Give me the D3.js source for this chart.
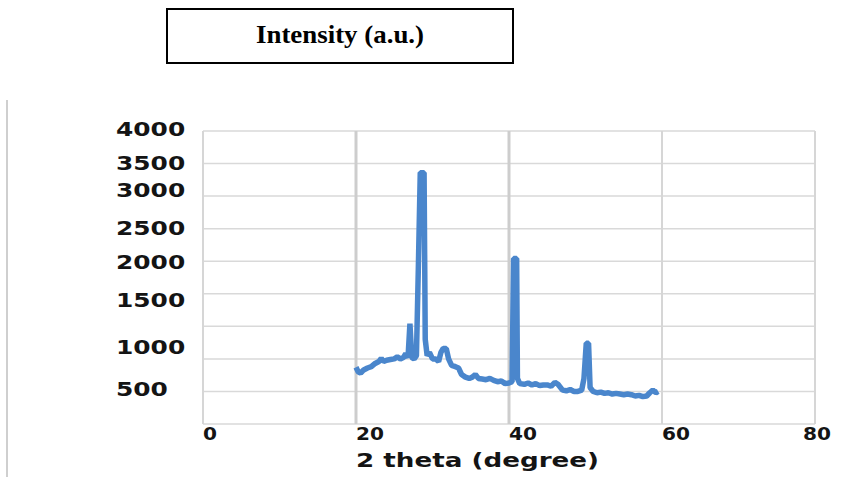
<!DOCTYPE html>
<html>
<head>
<meta charset="utf-8">
<script src="https://cdn.jsdelivr.net/npm/d3@7"></script>
<style>
  html, body { margin: 0; padding: 0; background: #fff; }
  svg { display: block; }
</style>
</head>
<body>
<div id="chart"></div>
<script>
// XRD pattern (intensity in gridline units)
var twoTheta = [20.0, 20.3, 20.6, 21.0, 21.5, 22.0, 22.5, 23.0, 23.3, 23.6, 24.0, 24.5, 25.0, 25.4, 25.8,
  26.2, 26.5, 26.8, 27.05, 27.3, 27.6, 27.9, 28.15, 28.4, 28.9, 29.05, 29.3, 29.6, 30.0, 30.4, 30.8,
  31.1, 31.4, 31.8, 32.1, 32.5, 33.0, 33.4, 33.8, 34.3, 34.8, 35.2, 35.6, 36.0, 36.5, 37.0, 37.5,
  38.0, 38.5, 39.0, 39.5, 40.0, 40.4, 40.6, 41.0, 41.1, 41.4, 42.0, 42.5, 43.0, 43.5, 44.0, 44.5,
  45.0, 45.5, 46.0, 46.4, 47.0, 47.5, 48.0, 48.5, 49.0, 49.5, 49.8, 50.1, 50.4, 50.6, 51.0, 51.5,
  52.0, 52.5, 53.0, 53.5, 54.0, 54.5, 55.0, 55.5, 56.0, 56.5, 57.0, 57.5, 58.0, 58.4, 58.8, 59.2, 59.5];
var intensity = [870, 800, 780, 830, 860, 880, 930, 960, 1010, 960, 980, 990, 1000, 1030, 1000,
  1020, 1080, 1020, 1540, 1020, 1000, 1050, 2400, 3860, 3860, 1300, 1050, 1100, 1000, 1000, 960,
  1100, 1160, 1160, 1000, 900, 880, 860, 760, 720, 700, 720, 760, 700, 690, 680, 700,
  670, 650, 660, 620, 630, 650, 2540, 2540, 700, 620, 610, 630, 600, 620, 590, 600,
  600, 580, 640, 610, 520, 510, 530, 500, 500, 520, 700, 1240, 1240, 560, 500, 480,
  490, 470, 480, 460, 470, 460, 450, 460, 450, 430, 440, 420, 430, 480, 520, 480, 500];

var xTicks = [0, 20, 40, 60, 80];
var yLabels = ["4000", "3500", "3000", "2500", "2000", "1500", "1000", "500"];
// where each (hand-placed) y label sits, in gridline units
var yLabelAt = [4531, 4009, 3594, 3011, 2488, 1905, 1183, 538];

var chartTitle = "Intensity (a.u.)";
var xTitle = "2 theta (degree)";

var width = 868, height = 477;
var plot = { left: 203, right: 815, top: 131, bottom: 424 };

var svg = d3.select('#chart').append('svg')
  .attr('width', width)
  .attr('height', height);

var x = d3.scaleLinear().domain([0, 80]).range([plot.left, plot.right]);
var y = d3.scaleLinear().domain([0, 4500]).range([plot.bottom, plot.top]);

// page border line on the left
svg.append('line')
  .attr('x1', 7).attr('x2', 7)
  .attr('y1', 100).attr('y2', height)
  .attr('stroke', '#cfcfcf')
  .attr('stroke-width', 2);

// title box
svg.append('rect')
  .attr('x', 167).attr('y', 9)
  .attr('width', 346).attr('height', 54)
  .attr('fill', 'none')
  .attr('stroke', '#000')
  .attr('stroke-width', 2);
svg.append('text')
  .attr('x', 340).attr('y', 43)
  .attr('text-anchor', 'middle')
  .attr('font-family', 'Liberation Serif, Times New Roman, serif')
  .attr('font-weight', 'bold')
  .attr('font-size', 26)
  .attr('textLength', 168)
  .attr('lengthAdjust', 'spacingAndGlyphs')
  .text(chartTitle);

// horizontal gridlines
svg.append('g')
  .selectAll('line')
  .data(y.ticks(10))
  .enter()
  .append('line')
  .attr('x1', plot.left).attr('x2', plot.right)
  .attr('y1', d => y(d)).attr('y2', d => y(d))
  .attr('stroke', '#d9d9d9')
  .attr('stroke-width', 1.5);

// vertical gridlines
svg.append('g')
  .selectAll('line')
  .data(xTicks)
  .enter()
  .append('line')
  .attr('x1', d => x(d)).attr('x2', d => x(d))
  .attr('y1', plot.top).attr('y2', plot.bottom)
  .attr('stroke', d => (d == 20 || d == 40) ? '#cdcdcd' : '#d6d6d6')
  .attr('stroke-width', d => (d == 20 || d == 40) ? 3 : 2);

// y labels
svg.append('g')
  .selectAll('text')
  .data(yLabels)
  .enter()
  .append('text')
  .attr('x', 116)
  .attr('y', (d, i) => y(yLabelAt[i]))
  .attr('dy', '0.36em')
  .attr('font-family', 'DejaVu Sans, Verdana, sans-serif')
  .attr('font-weight', 'bold')
  .attr('font-size', 20)
  .attr('fill', '#141414')
  .attr('textLength', d => d.length * 17.3)
  .attr('lengthAdjust', 'spacingAndGlyphs')
  .text(d => d);

// x labels
svg.append('g')
  .selectAll('text')
  .data(xTicks)
  .enter()
  .append('text')
  .attr('x', (d, i) => i == xTicks.length - 1 ? x(d) + 2 : x(d))
  .attr('y', 440)
  .attr('text-anchor', (d, i) => i == xTicks.length - 1 ? 'middle' : 'start')
  .attr('font-family', 'DejaVu Sans, Verdana, sans-serif')
  .attr('font-weight', 'bold')
  .attr('font-size', 18)
  .attr('fill', '#141414')
  .attr('textLength', d => String(d).length * 14)
  .attr('lengthAdjust', 'spacingAndGlyphs')
  .text(d => d);

// x title
svg.append('text')
  .attr('x', x(20))
  .attr('y', 467)
  .attr('font-family', 'DejaVu Sans, Verdana, sans-serif')
  .attr('font-weight', 'bold')
  .attr('font-size', 19)
  .attr('fill', '#141414')
  .attr('textLength', 243)
  .attr('lengthAdjust', 'spacingAndGlyphs')
  .text(xTitle);

// the pattern
var line = d3.line()
  .x((d, i) => x(twoTheta[i]))
  .y(d => y(d));

svg.append('path')
  .datum(intensity)
  .attr('d', line)
  .attr('fill', 'none')
  .attr('stroke', '#4a86cc')
  .attr('stroke-width', 5.5)
  .attr('stroke-linejoin', 'bevel')
  .attr('stroke-linecap', 'butt');
</script>
</body>
</html>
